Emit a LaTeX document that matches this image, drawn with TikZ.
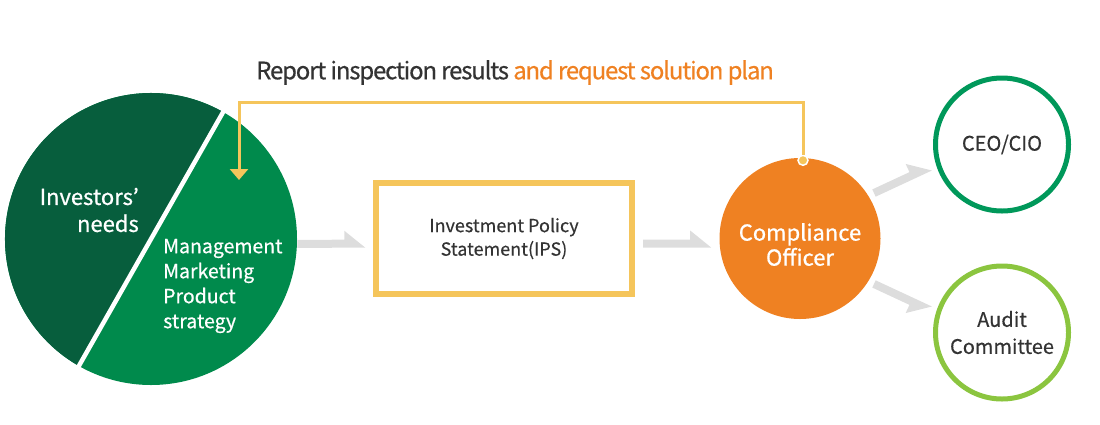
\documentclass[tikz,border=0pt]{standalone}
\usepackage{fontspec}
\setmainfont{Noto Sans CJK KR}
\usetikzlibrary{calc,positioning,arrows.meta}
\definecolor{ivdark}{HTML}{075E3D}
\definecolor{ivgreen}{HTML}{008A4C}
\definecolor{ceogreen}{HTML}{00985A}
\definecolor{auditgreen}{HTML}{8BC53F}
\definecolor{coorange}{HTML}{EF8122}
\definecolor{ipsyellow}{HTML}{F5C55B}
\definecolor{flowgrey}{HTML}{DDDDDD}
\definecolor{txtdark}{HTML}{333333}
\tikzset{
 ips box/.style={draw=ipsyellow,line width=6pt,minimum width=256pt,
                 minimum height=111pt,inner sep=0pt,align=center,text=txtdark,
                 font=\fontsize{18}{23.5}\selectfont\addfontfeature{FakeBold=0.4}},
 officer/.style={circle,fill=coorange,minimum size=161pt,inner sep=0pt},
 board ring/.style={circle,draw=#1,line width=5pt,minimum size=133pt,
                    inner sep=0pt,align=center,text=txtdark,
                    font=\fontsize{20}{27}\selectfont\addfontfeature{FakeBold=0.4}},
 white label/.style={text=white,inner sep=0pt},
 report line/.style={draw=ipsyellow,line width=3pt},
 report dot/.style={circle,fill=ipsyellow,draw=white,line width=1.5pt,
                    minimum size=10pt,inner sep=0pt},
 flow len/.store in=\flowlen, flow len=34,
 flow side/.store in=\flowside, flow side=1,
 flow arrow/.pic={
   \fill[flowgrey] (-\flowlen,{\flowside*(#1-4)}) -- ({\flowlen-21},{\flowside*(#1-4)})
     -- ({\flowlen-21},{\flowside*(#1-13)}) -- (\flowlen,{\flowside*(#1+4)})
     -- (-\flowlen,{\flowside*(#1+4)}) -- cycle;
 }
}
\begin{document}
\begin{tikzpicture}[x=1pt,y=-1pt]
 \useasboundingbox (0,0) rectangle (1100,424);
 % investors / strategy circle
 \node[circle,fill=ivgreen,minimum size=292pt,inner sep=0pt] (lc) at (151,239) {};
 \fill[ivdark] (lc.center) ++(119.6:146) arc[start angle=119.6,end angle=299.6,radius=146] -- cycle;
 \draw[white,line width=4.5pt] ($(lc.center)+(119.6:152)$) -- ($(lc.center)+(-60.4:152)$);
 \node[white label,align=right,anchor=east,font=\fontsize{22}{27}\selectfont\addfontfeature{FakeBold=0.8}]
   (needs) at (139,210) {Investors’\\needs};
 \node[white label,align=left,anchor=west,font=\fontsize{19.5}{25}\selectfont\addfontfeature{FakeBold=0.6}]
   (strategy) at (163,286) {Management\\Marketing\\Product\\strategy};
 % IPS and officer
 \node[ips box] (ips) at (504,238.5) {Investment Policy\\Statement(IPS)};
 \node[officer] (comp) at (800,238.5) {};
 \node[white label,align=center,font=\fontsize{22}{25}\selectfont\addfontfeature{FakeBold=0.8}]
   (comptext) at (800,244.5) {Compliance\\Officer};
 \node[board ring=ceogreen] (ceo) at (1002,144.5) {CEO/CIO};
 \node[board ring=auditgreen] (audit) at (1002,332.5) {Audit\\Committee};
 % grey flow arrows
 \path (lc) -- (ips) pic[pos=.45,sloped]{flow arrow=5};
 \path (ips) -- (comp) pic[pos=.5,sloped]{flow arrow=5};
 \path (comp) -- (ceo) pic[pos=.5,sloped,flow len=31]{flow arrow=-10};
 \path (comp) -- (audit) pic[pos=.5,sloped,flow len=31,flow side=-1]{flow arrow=-10};
 % report back
 \node[anchor=base west,inner sep=0pt,text=txtdark,
       font=\fontsize{24}{28}\selectfont\addfontfeature{LetterSpace=-5,FakeBold=0.4}]
   (report) at (256,79.3) {Report inspection results \textcolor{coorange}{and request solution plan}};
 \node[report dot] (dot) at ($(comp.north)+(3,2.5)$) {};
 \coordinate (tip) at (239,180);
 \draw[report line,-{Triangle[width=18pt,length=11pt]}] (dot) -- ++(0,-58) -| (tip);
\end{tikzpicture}
\end{document}
